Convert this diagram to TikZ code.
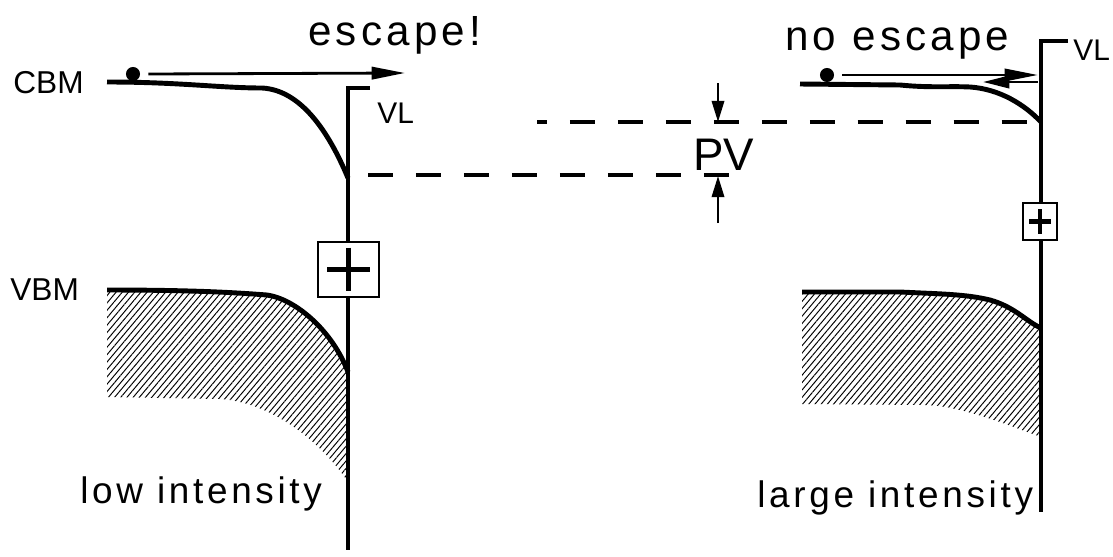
\documentclass[tikz,border=0pt]{standalone}
\usepackage{fontspec}
\newfontfamily\plotfont[LetterSpace=10]{Liberation Sans}
\newfontfamily\labfont{Liberation Sans}
\usetikzlibrary{arrows.meta,patterns.meta}
\begin{document}
\begin{tikzpicture}[x=0.2mm, y=-0.2mm,
  band/.style={line width=2.8pt},
  wall/.style={line width=2.8pt},
  lvl/.style={line width=2.2pt, dash pattern=on 14.2pt off 13.1pt},
  hatch/.style={pattern={Lines[angle=50, distance=2.7pt, line width=0.55pt]}},
  electron/.style={circle, fill, inner sep=0pt, minimum size=8pt},
  plusbox/.style={draw, fill=white, line width=1.1pt, inner sep=0pt},
  plus/.style={line width=2.8pt},
  a/.style={line width=1.6pt, -{Triangle[length=19pt, width=7pt]}},
  ar/.style={line width=1.6pt, -{Triangle[length=15pt, width=7pt]}},
  pv/.style={line width=1.4pt, -{Triangle[length=12pt, width=7pt]}},
  big/.style={font=\plotfont\fontsize{24}{28}\selectfont, inner sep=0pt, anchor=base west},
  mid/.style={font=\plotfont\fontsize{21}{25}\selectfont, inner sep=0pt, anchor=base west},
  lab/.style={font=\labfont\fontsize{18}{21}\selectfont, inner sep=0pt, anchor=base west},
  vl/.style={font=\labfont\fontsize{17}{20}\selectfont, inner sep=0pt, anchor=base west},
  pvlab/.style={font=\labfont\fontsize{26}{30}\selectfont, inner sep=0pt, anchor=base west}]

  \useasboundingbox (0,0) rectangle (1113,556);

  \fill[hatch] (107,290) .. controls (200,290) and (240,293) .. (267,295)
    .. controls (295,299) and (332,330) .. (348,372) -- (348,482)
    .. controls (320,440) and (270,402) .. (220,399) -- (107,397) -- cycle;
  \fill[hatch] (802,292) -- (900,292) .. controls (940,294) and (965,294) .. (990,300)
    .. controls (1015,307) and (1027,322) .. (1041,328) -- (1041,437)
    .. controls (1000,422) and (960,406) .. (925,405) -- (802,404) -- cycle;

  \draw[wall] (370,88) -- (348,88) -- (348,550);
  \draw[wall] (1068,41) -- (1041,41) -- (1041,512);

  \draw[band] (107,82) .. controls (180,82) and (220,88) .. (262,88)
    .. controls (300,90) and (328,130) .. (348,178);
  \draw[band] (107,290) .. controls (200,290) and (240,293) .. (267,295)
    .. controls (295,299) and (332,330) .. (348,372);
  \draw[band] (800,84) -- (900,85) .. controls (930,88) and (950,86) .. (970,87)
    .. controls (1000,89) and (1025,105) .. (1041,122);
  \draw[band] (802,292) -- (900,292) .. controls (940,294) and (965,294) .. (990,300)
    .. controls (1015,307) and (1027,322) .. (1041,328);

  \node[plusbox, minimum width=34.6pt, minimum height=31.2pt] (holeL) at (348.5,269.5) {};
  \draw[plus] ([xshift=-12.2pt]holeL.center) -- ([xshift=12.2pt]holeL.center);
  \draw[plus] ([yshift=12.5pt]holeL.center) -- ([yshift=-12.5pt]holeL.center);
  \node[plusbox, minimum width=19.3pt, minimum height=21pt] (holeR) at (1040,221.5) {};
  \draw[plus] ([xshift=-6.2pt]holeR.center) -- ([xshift=6.2pt]holeR.center);
  \draw[plus] ([yshift=7pt]holeR.center) -- ([yshift=-7pt]holeR.center);

  \node[electron] (eL) at (133,74) {};
  \node[electron] (eR) at (827,75) {};
  \draw[a]  ([xshift=4.5pt]eL.east) -- (405,73);
  \draw[a]  ([xshift=4.5pt]eR.east) -- (1038,75);
  \draw[ar] (1038,82) -- (983,82);

  \draw[lvl] (368,175) -- (731,175);
  \draw[lvl, dash phase=8.6pt] (537,122) -- (1027,122);
  \draw[pv] (718,83) -- (718,122);
  \draw[pv] (718,223) -- (718,176);

  \node[big]   (esc)   at (308,45)  {escape!};
  \node[big]   (noesc) at (785,50)  {no escape};
  \node[lab]   (cbm)   at (13,93)   {CBM};
  \node[lab]   (vbm)   at (10,300)  {VBM};
  \node[vl]    (vlL)   at (377,123) {VL};
  \node[vl]    (vlR)   at (1073,60) {VL};
  \node[pvlab] (pv)    at (693,170) {PV};
  \node[mid]   (low)   at (80,503)  {low intensity};
  \node[mid]   (large) at (757,507) {large intensity};

\end{tikzpicture}
\end{document}
